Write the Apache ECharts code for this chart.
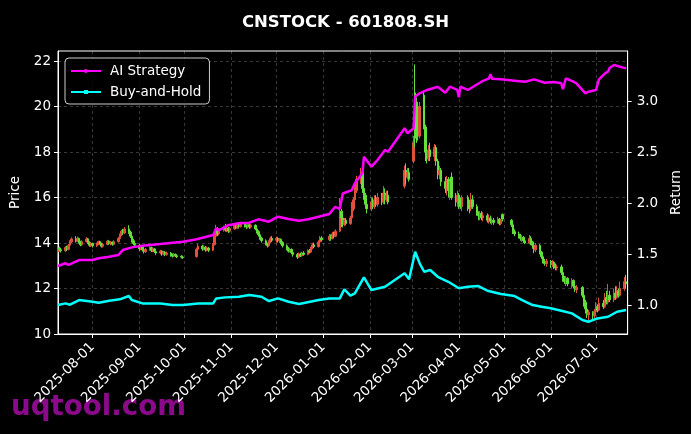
<!DOCTYPE html>
<html>
<head>
<meta charset="utf-8">
<script src="https://cdn.jsdelivr.net/npm/echarts@6/dist/echarts.min.js"></script>
<style>
  html, body { margin: 0; padding: 0; background: #000; }
  #chart { width: 691px; height: 434px; }
</style>
</head>
<body>
<div id="chart"></div>
<script>
// daily candles, [open, close, low, high]
const candleDates = [
  "2025-07-09","2025-07-10","2025-07-11","2025-07-14","2025-07-15","2025-07-16","2025-07-17","2025-07-18","2025-07-21","2025-07-22","2025-07-23","2025-07-24","2025-07-25","2025-07-28","2025-07-29","2025-07-30","2025-07-31",
  "2025-08-01","2025-08-04","2025-08-05","2025-08-06","2025-08-07","2025-08-08","2025-08-11","2025-08-12","2025-08-13","2025-08-14","2025-08-15","2025-08-18","2025-08-19","2025-08-20","2025-08-21","2025-08-22","2025-08-25","2025-08-26","2025-08-27","2025-08-28","2025-08-29",
  "2025-09-01","2025-09-02","2025-09-03","2025-09-04","2025-09-05","2025-09-08","2025-09-09","2025-09-10","2025-09-11","2025-09-12","2025-09-15","2025-09-16","2025-09-17","2025-09-18","2025-09-19","2025-09-22","2025-09-23","2025-09-24","2025-09-25","2025-09-26","2025-09-29","2025-09-30",
  "2025-10-09","2025-10-10","2025-10-13","2025-10-14","2025-10-15","2025-10-16","2025-10-17","2025-10-20","2025-10-21","2025-10-22","2025-10-23","2025-10-24","2025-10-27","2025-10-28","2025-10-29","2025-10-30","2025-10-31",
  "2025-11-03","2025-11-04","2025-11-05","2025-11-06","2025-11-07","2025-11-10","2025-11-11","2025-11-12","2025-11-13","2025-11-14","2025-11-17","2025-11-18","2025-11-19","2025-11-20","2025-11-21","2025-11-24","2025-11-25","2025-11-26","2025-11-27","2025-11-28",
  "2025-12-01","2025-12-02","2025-12-03","2025-12-04","2025-12-05","2025-12-08","2025-12-09","2025-12-10","2025-12-11","2025-12-12","2025-12-15","2025-12-16","2025-12-17","2025-12-18","2025-12-19","2025-12-22","2025-12-23","2025-12-24","2025-12-25","2025-12-26","2025-12-29","2025-12-30","2025-12-31",
  "2026-01-05","2026-01-06","2026-01-07","2026-01-08","2026-01-09","2026-01-12","2026-01-13","2026-01-14","2026-01-15","2026-01-16","2026-01-19","2026-01-20","2026-01-21","2026-01-22","2026-01-23","2026-01-26","2026-01-27","2026-01-28","2026-01-29","2026-01-30",
  "2026-02-02","2026-02-03","2026-02-04","2026-02-05","2026-02-06","2026-02-09","2026-02-10","2026-02-11","2026-02-12","2026-02-13","2026-02-24","2026-02-25","2026-02-26","2026-02-27",
  "2026-03-02","2026-03-03","2026-03-04","2026-03-05","2026-03-06","2026-03-09","2026-03-10","2026-03-11","2026-03-12","2026-03-13","2026-03-16","2026-03-17","2026-03-18","2026-03-19","2026-03-20","2026-03-23","2026-03-24","2026-03-25","2026-03-26","2026-03-27","2026-03-30","2026-03-31",
  "2026-04-01","2026-04-02","2026-04-03","2026-04-07","2026-04-08","2026-04-09","2026-04-10","2026-04-13","2026-04-14","2026-04-15","2026-04-16","2026-04-17","2026-04-20","2026-04-21","2026-04-22","2026-04-23","2026-04-24","2026-04-27","2026-04-28","2026-04-29","2026-04-30",
  "2026-05-06","2026-05-07","2026-05-08","2026-05-11","2026-05-12","2026-05-13","2026-05-14","2026-05-15","2026-05-18","2026-05-19","2026-05-20","2026-05-21","2026-05-22","2026-05-25","2026-05-26","2026-05-27","2026-05-28","2026-05-29",
  "2026-06-01","2026-06-02","2026-06-03","2026-06-04","2026-06-05","2026-06-08","2026-06-09","2026-06-10","2026-06-11","2026-06-12","2026-06-15","2026-06-16","2026-06-17","2026-06-18","2026-06-22","2026-06-23","2026-06-24","2026-06-25","2026-06-26","2026-06-29","2026-06-30",
  "2026-07-01","2026-07-02","2026-07-03","2026-07-06","2026-07-07","2026-07-08","2026-07-09","2026-07-10","2026-07-13","2026-07-14","2026-07-15","2026-07-16","2026-07-17","2026-07-20","2026-07-21"
];
const ohlc = [
  // Jul 2025
  [13.62,13.78,13.55,13.85],[13.78,13.70,13.62,13.84],[13.70,13.66,13.58,13.76],[13.66,13.80,13.60,13.86],[13.80,13.72,13.65,13.88],[13.72,13.90,13.68,13.96],[13.90,14.05,13.85,14.12],[14.05,14.18,14.00,14.25],[14.18,14.08,14.02,14.30],[14.08,14.20,14.04,14.28],[14.20,14.05,13.98,14.24],[14.05,13.92,13.86,14.10],[13.92,14.06,13.88,14.12],[14.06,14.18,14.02,14.26],[14.18,14.02,13.96,14.22],[14.02,13.90,13.84,14.08],[13.90,13.98,13.82,14.04],
  // Aug
  [13.98,13.88,13.80,14.02],[13.88,13.96,13.82,14.02],[13.96,14.06,13.90,14.10],[14.06,13.98,13.92,14.10],[13.98,13.86,13.80,14.02],[13.86,13.94,13.80,14.00],[13.94,14.08,13.90,14.14],[14.08,13.98,13.92,14.12],[13.98,14.04,13.90,14.08],[14.04,13.94,13.88,14.06],[13.94,14.06,13.90,14.12],[14.06,14.20,14.02,14.26],[14.20,14.36,14.14,14.42],[14.36,14.52,14.30,14.58],[14.52,14.44,14.36,14.62],[14.44,14.62,14.40,14.70],[14.62,14.48,14.40,14.78],[14.48,14.30,14.22,14.54],[14.30,14.10,14.02,14.36],[14.10,13.98,13.90,14.18],[13.98,13.90,13.80,14.06],
  // Sep
  [13.90,13.74,13.66,13.96],[13.74,13.84,13.68,13.90],[13.84,13.70,13.62,13.88],[13.70,13.62,13.54,13.76],[13.62,13.72,13.56,13.78],[13.72,13.80,13.66,13.86],[13.80,13.66,13.60,13.84],[13.66,13.74,13.60,13.80],[13.74,13.62,13.56,13.78],[13.62,13.56,13.48,13.68],[13.56,13.64,13.50,13.70],[13.64,13.52,13.44,13.68],[13.52,13.60,13.46,13.66],[13.60,13.50,13.42,13.64],[13.50,13.56,13.44,13.62],[13.56,13.48,13.40,13.60],[13.48,13.42,13.36,13.54],[13.42,13.50,13.38,13.56],[13.50,13.44,13.38,13.54],[13.44,13.40,13.34,13.48],[13.42,13.38,13.32,13.46],[13.38,13.36,13.30,13.44],
  // Oct
  [13.40,13.72,13.36,13.80],[13.72,13.86,13.64,13.96],[13.86,13.74,13.66,13.92],[13.74,13.82,13.68,13.90],[13.82,13.70,13.62,13.86],[13.70,13.78,13.64,13.84],[13.78,13.68,13.60,13.82],[13.68,13.92,13.64,14.00],[13.92,14.30,13.90,14.38],[14.30,14.62,14.26,14.80],[14.62,14.40,14.30,14.70],[14.40,14.56,14.34,14.64],[14.56,14.70,14.50,14.76],[14.70,14.58,14.50,14.84],[14.58,14.66,14.48,14.72],[14.66,14.52,14.44,14.70],[14.52,14.64,14.46,14.70],
  // Nov
  [14.64,14.78,14.58,14.86],[14.78,14.66,14.60,14.84],[14.66,14.80,14.62,14.90],[14.80,14.72,14.64,14.88],[14.72,14.84,14.68,14.94],[14.84,14.76,14.68,14.92],[14.76,14.70,14.62,14.82],[14.70,14.80,14.64,14.88],[14.80,14.70,14.62,14.86],[14.70,14.78,14.64,14.84],[14.78,14.62,14.56,14.82],[14.62,14.50,14.42,14.68],[14.50,14.36,14.28,14.56],[14.36,14.22,14.14,14.42],[14.22,14.10,14.02,14.28],[14.10,13.96,13.90,14.16],[13.96,13.88,13.80,14.02],[13.88,14.06,13.84,14.12],[14.06,14.20,14.00,14.28],[14.20,14.12,14.04,14.30],
  // Dec
  [14.12,14.20,14.02,14.28],[14.20,14.10,14.02,14.26],[14.10,14.16,14.00,14.22],[14.16,14.02,13.94,14.20],[14.02,13.88,13.80,14.08],[13.88,13.76,13.68,13.94],[13.76,13.64,13.58,13.82],[13.64,13.72,13.58,13.78],[13.72,13.58,13.50,13.76],[13.58,13.50,13.40,13.64],[13.50,13.38,13.30,13.56],[13.38,13.52,13.34,13.58],[13.52,13.44,13.38,13.58],[13.44,13.56,13.40,13.62],[13.56,13.50,13.44,13.64],[13.50,13.66,13.46,13.72],[13.66,13.60,13.54,13.74],[13.60,13.78,13.56,13.84],[13.78,13.92,13.72,14.00],[13.92,13.84,13.78,14.02],[13.84,14.04,13.80,14.12],[14.04,14.22,14.00,14.30],[14.22,14.14,14.06,14.30],
  // Jan 2026
  [14.14,14.30,14.08,14.40],[14.30,14.20,14.10,14.38],[14.20,14.40,14.16,14.48],[14.40,14.30,14.22,14.50],[14.30,14.52,14.26,14.60],[14.52,15.40,14.48,15.98],[15.40,15.10,14.70,15.50],[15.10,14.82,14.68,15.30],[14.82,15.00,14.74,15.10],[15.00,14.86,14.78,15.10],[14.86,15.10,14.80,15.20],[15.10,15.50,15.04,15.80],[15.50,15.90,15.40,16.00],[15.90,16.30,15.80,16.50],[16.30,16.80,16.20,16.95],[16.80,17.10,16.60,17.30],[17.10,16.40,16.20,17.50],[16.40,16.10,15.90,16.60],[16.10,15.70,15.50,16.20],[15.70,15.50,15.30,15.90],
  // Feb
  [15.50,15.80,15.40,16.00],[15.80,15.60,15.50,16.00],[15.60,15.90,15.50,16.10],[15.90,15.70,15.60,16.10],[15.70,16.00,15.60,16.20],[16.00,15.80,15.66,16.20],[15.80,16.20,15.70,16.50],[16.20,15.90,15.70,16.40],[15.90,16.10,15.80,16.30],[16.10,15.80,15.70,16.30],[16.50,17.20,16.40,17.40],[17.20,16.90,16.60,17.50],[16.90,17.10,16.80,17.30],[17.10,16.80,16.70,17.30],
  // Mar
  [17.60,18.40,17.50,18.70],[20.60,18.60,18.20,21.85],[20.20,18.90,18.40,20.40],[18.90,18.70,18.50,19.20],[18.70,20.00,18.60,20.20],[20.50,19.10,19.00,20.70],[19.10,18.00,17.60,19.20],[18.00,17.70,17.50,18.30],[17.70,18.10,17.60,18.30],[18.10,17.80,17.60,18.40],[17.80,18.20,17.60,18.35],[18.20,17.60,17.40,18.30],[17.60,17.00,16.80,17.70],[17.00,17.20,16.80,17.40],[17.20,16.70,16.50,17.30],[16.70,16.40,16.20,16.90],[16.40,16.80,16.10,16.95],[16.80,16.30,16.00,16.90],[16.00,16.60,15.90,16.70],[16.90,16.00,15.90,17.10],[16.00,15.80,15.60,16.20],[15.80,16.10,15.60,16.30],
  // Apr
  [16.10,15.70,15.50,16.20],[15.70,15.60,15.50,16.00],[15.60,16.00,15.40,16.10],[16.00,15.70,15.40,16.10],[15.70,15.50,15.30,15.90],[15.50,15.90,15.40,16.20],[15.90,15.60,15.50,16.10],[15.60,15.30,15.20,15.70],[15.30,15.20,15.00,15.40],[15.20,15.30,15.00,15.40],[15.30,15.10,15.00,15.40],[15.10,15.20,14.95,15.35],[15.20,15.00,14.90,15.30],[15.00,15.10,14.85,15.25],[15.10,14.95,14.85,15.20],[14.95,15.00,14.80,15.10],[15.00,14.90,14.80,15.10],[14.90,15.05,14.85,15.15],[15.05,14.85,14.78,15.10],[14.85,15.00,14.78,15.05],[15.25,15.05,14.95,15.30],
  // May
  [15.00,14.80,14.70,15.05],[14.80,14.50,14.40,14.90],[14.50,14.40,14.30,14.60],[14.40,14.30,14.20,14.50],[14.30,14.20,14.10,14.40],[14.20,14.25,14.05,14.35],[14.25,14.10,14.00,14.30],[14.10,14.00,13.95,14.20],[14.00,14.20,13.95,14.35],[14.20,14.05,13.90,14.30],[14.05,13.90,13.75,14.10],[13.90,13.70,13.55,13.95],[13.70,13.90,13.60,14.00],[13.90,13.60,13.50,13.95],[13.60,13.40,13.30,13.65],[13.40,13.20,13.10,13.50],[13.20,13.10,13.00,13.30],[13.10,13.20,12.95,13.30],
  // Jun
  [13.20,13.05,12.90,13.25],[13.05,13.15,12.95,13.25],[13.15,13.00,12.85,13.20],[13.00,12.90,12.80,13.10],[12.90,12.95,12.80,13.05],[12.95,12.70,12.60,13.05],[12.70,12.45,12.30,12.80],[12.45,12.30,12.20,12.55],[12.30,12.45,12.10,12.55],[12.45,12.20,12.10,12.50],[12.20,12.35,12.00,12.45],[12.35,12.10,12.00,12.40],[12.10,11.95,11.85,12.20],[11.95,12.05,11.80,12.15],[12.05,11.70,11.60,12.10],[11.70,11.40,11.20,11.80],[11.40,11.10,10.90,11.50],[11.10,10.85,10.70,11.20],[10.85,10.95,10.60,11.05],[10.95,10.80,10.60,11.00],[10.80,11.00,10.65,11.10],
  // Jul
  [11.00,11.20,10.90,11.40],[11.20,11.05,10.95,11.30],[11.05,11.35,11.00,11.60],[11.35,11.20,11.10,11.50],[11.20,11.60,11.15,11.80],[11.60,11.40,11.30,11.90],[11.40,11.70,11.30,12.20],[11.70,11.50,11.40,11.90],[11.50,11.80,11.40,12.00],[11.80,11.60,11.50,12.10],[11.60,11.90,11.55,12.10],[11.90,11.70,11.60,12.00],[11.70,12.00,11.65,12.30],[12.00,12.30,11.90,12.50],[12.30,12.20,12.00,12.60]
];

const strategyDates = [
  "2025-07-09","2025-07-14","2025-07-16","2025-07-23","2025-08-01","2025-08-05","2025-08-12","2025-08-18","2025-08-21","2025-08-27",
  "2025-09-03","2025-09-15","2025-09-30","2025-10-09","2025-10-20","2025-10-22","2025-10-24","2025-10-30","2025-11-06","2025-11-13",
  "2025-11-19","2025-11-26","2025-12-02","2025-12-09","2025-12-16","2025-12-22","2025-12-29","2026-01-05","2026-01-09","2026-01-12",
  "2026-01-14","2026-01-20","2026-01-22","2026-01-27","2026-01-28","2026-02-02","2026-02-06","2026-02-11","2026-02-13","2026-02-24",
  "2026-02-26","2026-03-02","2026-03-03","2026-03-06","2026-03-11","2026-03-18","2026-03-23","2026-03-26","2026-03-31","2026-04-01",
  "2026-04-02","2026-04-07","2026-04-16","2026-04-21","2026-04-22","2026-04-23","2026-04-29","2026-05-08","2026-05-15","2026-05-21",
  "2026-05-28","2026-06-03","2026-06-08","2026-06-09","2026-06-11","2026-06-16","2026-06-18","2026-06-24","2026-06-26","2026-07-01",
  "2026-07-03","2026-07-07","2026-07-09","2026-07-10","2026-07-13","2026-07-17","2026-07-21"
];
const strategyValues = [
  1.39,1.416,1.40,1.448,1.448,1.465,1.48,1.497,1.546,1.572,
  1.588,1.605,1.627,1.651,1.693,1.759,1.742,1.79,1.808,1.814,
  1.847,1.824,1.873,1.85,1.833,1.847,1.873,1.899,1.97,1.95,
  2.10,2.134,2.2,2.298,2.46,2.363,2.428,2.526,2.51,2.74,
  2.69,2.74,3.05,3.082,3.115,3.147,3.088,3.147,3.115,3.043,
  3.147,3.115,3.196,3.229,3.27,3.225,3.219,3.206,3.196,3.219,
  3.186,3.193,3.18,3.122,3.229,3.196,3.18,3.082,3.098,3.115,
  3.219,3.278,3.294,3.33,3.36,3.343,3.327
];

const holdDates = [
  "2025-07-09","2025-07-14","2025-07-17","2025-07-23","2025-08-01","2025-08-05","2025-08-12","2025-08-19","2025-08-25","2025-08-27",
  "2025-09-03","2025-09-15","2025-09-23","2025-09-30","2025-10-10","2025-10-20","2025-10-22","2025-10-28","2025-11-06","2025-11-13",
  "2025-11-21","2025-11-26","2025-12-02","2025-12-09","2025-12-16","2025-12-29","2026-01-05","2026-01-12","2026-01-15","2026-01-19",
  "2026-01-22","2026-01-28","2026-02-02","2026-02-11","2026-02-24","2026-02-27","2026-03-03","2026-03-06","2026-03-09","2026-03-13",
  "2026-03-18","2026-03-25","2026-04-01","2026-04-07","2026-04-14","2026-04-20","2026-04-29","2026-05-08","2026-05-13","2026-05-20",
  "2026-05-26","2026-06-01","2026-06-08","2026-06-15","2026-06-22","2026-06-26","2026-07-02","2026-07-09","2026-07-15","2026-07-21"
];
const holdValues = [
  1.007,1.023,1.01,1.056,1.039,1.03,1.049,1.063,1.095,1.056,
  1.023,1.023,1.007,1.007,1.023,1.023,1.072,1.082,1.088,1.105,
  1.088,1.046,1.072,1.039,1.017,1.056,1.072,1.072,1.161,1.10,
  1.122,1.278,1.154,1.186,1.318,1.26,1.529,1.416,1.333,1.35,
  1.284,1.235,1.171,1.186,1.193,1.147,1.115,1.095,1.056,1.007,
  0.99,0.975,0.951,0.925,0.86,0.843,0.876,0.892,0.941,0.958
];

const monthTicks = ["2025-08-01","2025-09-01","2025-10-01","2025-11-01","2025-12-01","2026-01-01","2026-02-01","2026-03-01","2026-04-01","2026-05-01","2026-06-01","2026-07-01"];
const priceTicks = [10, 12, 14, 16, 18, 20, 22];
const returnTicks = [1.0, 1.5, 2.0, 2.5, 3.0];

const t = s => echarts.number.parseDate(s).getTime();
const FONT = "DejaVu Sans";

const n = Math.min(candleDates.length, ohlc.length);
const candleData = [];
for (let i = 0; i < n; i++) candleData.push([t(candleDates[i])].concat(ohlc[i]));

const gridLine = { show: true, lineStyle: { color: "rgba(255,255,255,0.28)", type: [3, 3], width: 0.8 } };

const myChart = echarts.init(document.getElementById("chart"));
myChart.setOption({
  backgroundColor: "#000",
  animation: false,
  textStyle: { fontFamily: FONT, color: "#fff" },
  title: {
    text: "CNSTOCK - 601808.SH",
    left: "center",
    top: 9,
    textStyle: { color: "#fff", fontSize: 16.5, fontWeight: "bold", fontFamily: FONT }
  },
  legend: {
    orient: "vertical",
    left: 65,
    top: 58,
    itemWidth: 30,
    itemHeight: 5,
    itemGap: 7,
    padding: [6, 8, 5, 5],
    backgroundColor: "rgba(0,0,0,0.8)",
    borderColor: "#ccc",
    borderWidth: 1,
    borderRadius: 4,
    textStyle: { color: "#fff", fontSize: 13.5, fontFamily: FONT, padding: [0, 0, 0, 4] },
    data: ["AI Strategy", "Buy-and-Hold"]
  },
  grid: {
    left: 58, right: 61, top: 51, bottom: 100,
    show: true, borderColor: "#fff", borderWidth: 1, backgroundColor: "#000"
  },
  xAxis: {
    type: "value",
    min: t("2025-07-09"),
    max: t("2026-07-22"),
    axisLine: { lineStyle: { color: "#fff" } },
    axisTick: { show: true, length: 4, lineStyle: { color: "#fff" }, customValues: monthTicks.map(t) },
    axisLabel: {
      customValues: monthTicks.map(t),
      rotate: 45,
      margin: 11,
      color: "#fff",
      fontSize: 13.5,
      fontFamily: FONT,
      formatter: v => echarts.time.format(v, "{yyyy}-{MM}-{dd}", false)
    },
    splitLine: gridLine
  },
  yAxis: [
    {
      type: "value",
      min: 10,
      max: 22.44,
      name: "Price",
      nameLocation: "middle",
      nameGap: 33,
      nameTextStyle: { color: "#fff", fontSize: 13.5, fontFamily: FONT },
      axisLine: { show: true, lineStyle: { color: "#fff" } },
      axisTick: { show: true, length: 4, lineStyle: { color: "#fff" }, customValues: priceTicks },
      axisLabel: { customValues: priceTicks, color: "#fff", fontSize: 13.5, fontFamily: FONT, margin: 7 },
      splitLine: gridLine
    },
    {
      type: "value",
      min: 0.723,
      max: 3.497,
      name: "Return",
      nameLocation: "middle",
      nameGap: 36,
      nameTextStyle: { color: "#fff", fontSize: 13.5, fontFamily: FONT },
      axisLine: { show: true, lineStyle: { color: "#fff" } },
      axisTick: { show: true, length: 4, lineStyle: { color: "#fff" }, customValues: returnTicks },
      axisLabel: { customValues: returnTicks, color: "#fff", fontSize: 13.5, fontFamily: FONT, margin: 9,
        formatter: v => v.toFixed(1) },
      splitLine: { show: false }
    }
  ],
  graphic: [
    {
      type: "text",
      left: 11,
      top: 394,
      z: -10,
      style: { text: "uqtool.com", font: "bold 27.7px 'DejaVu Sans'", fill: "#8b0a8b" }
    }
  ],
  series: [
    {
      name: "Price",
      type: "candlestick",
      yAxisIndex: 0,
      barWidth: 2,
      dimensions: ["date", "open", "close", "lowest", "highest"],
      encode: { x: "date", y: ["open", "close", "lowest", "highest"] },
      data: candleData,
      itemStyle: {
        color: "#e2503c", color0: "#62e03c",
        borderColor: "#e2503c", borderColor0: "#62e03c", borderWidth: 1
      }
    },
    {
      name: "AI Strategy",
      type: "line",
      yAxisIndex: 1,
      data: strategyDates.map((d, i) => [t(d), strategyValues[i]]),
      symbol: "circle",
      symbolSize: 5,
      showSymbol: false,
      lineStyle: { color: "#ff00ff", width: 2.5 },
      itemStyle: { color: "#ff00ff" },
      z: 5
    },
    {
      name: "Buy-and-Hold",
      type: "line",
      yAxisIndex: 1,
      data: holdDates.map((d, i) => [t(d), holdValues[i]]),
      symbol: "rect",
      symbolSize: 5,
      showSymbol: false,
      lineStyle: { color: "#00ffff", width: 2.5 },
      itemStyle: { color: "#00ffff" },
      z: 5
    }
  ]
});
</script>
</body>
</html>
